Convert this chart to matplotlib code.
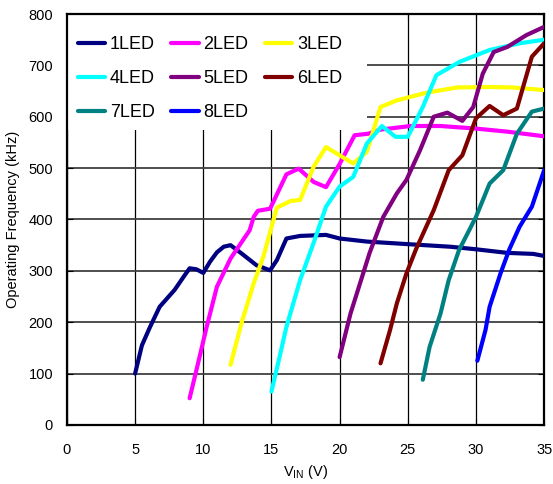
import matplotlib
matplotlib.use("Agg")
import matplotlib.pyplot as plt
from matplotlib.patches import Rectangle

# Data (VIN in V, frequency in kHz)
v_1led = [5.0, 5.5, 6.1, 6.8, 7.9, 8.6, 9.0, 9.5, 10.0, 10.5, 11.0, 11.5, 12.0, 12.8, 13.9, 14.9, 15.4,
          16.1, 17.1, 19.0, 20.0, 22.0, 25.0, 28.1, 30.0, 32.3, 34.2, 35.0]
f_1led = [100, 155, 191, 230, 263, 290, 305, 303, 296, 318, 336, 347, 350, 334, 311, 301, 321,
          363, 368, 370, 363, 357, 352, 347, 342, 335, 333, 329]

v_2led = [9.0, 9.5, 10.25, 11.0, 12.0, 13.4, 13.7, 14.0, 14.9, 16.1, 17.0, 18.1, 19.0, 20.0, 21.1,
          22.1, 23.0, 25.2, 27.4, 30.0, 32.3, 35.0]
f_2led = [52, 107, 191, 269, 324, 379, 405, 417, 421, 488, 499, 473, 463, 508, 564,
          567, 575, 582, 582, 577, 571, 562]

v_3led = [12.0, 12.8, 13.7, 14.4, 15.4, 16.4, 17.1, 18.1, 19.0, 20.0, 21.0, 22.0, 23.0, 24.2, 26.4,
          28.6, 31.0, 32.7, 35.0]
f_3led = [117, 198, 276, 327, 423, 436, 438, 503, 541, 525, 509, 532, 619, 632, 647,
          657, 658, 657, 652]

v_4led = [15.0, 15.6, 16.1, 17.1, 18.1, 19.0, 20.0, 21.0, 22.0, 23.1, 24.1, 25.0, 26.1, 27.1, 28.8,
          31.0, 33.2, 35.0]
f_4led = [65, 133, 191, 282, 355, 425, 464, 483, 548, 582, 561, 561, 619, 681, 707,
          730, 743, 750]

v_5led = [20.0, 20.8, 21.5, 22.2, 23.2, 24.2, 24.9, 25.9, 26.9, 27.9, 29.0, 29.8, 30.5, 31.3, 32.3,
          33.7, 35.0]
f_5led = [132, 217, 276, 335, 405, 451, 477, 535, 600, 608, 592, 619, 684, 726, 736,
          759, 775]

v_6led = [23.0, 23.7, 24.2, 24.9, 25.6, 26.9, 28.0, 29.0, 30.0, 31.0, 32.0, 33.0, 34.1, 35.0]
f_6led = [120, 185, 237, 295, 342, 418, 496, 525, 597, 621, 603, 616, 717, 743]

v_7led = [26.1, 26.6, 27.4, 28.0, 28.75, 30.0, 31.0, 32.0, 33.0, 34.1, 35.0]
f_7led = [88, 152, 217, 282, 340, 405, 470, 496, 567, 610, 616]

v_8led = [30.1, 30.7, 31.0, 31.8, 32.45, 33.2, 34.1, 35.0]
f_8led = [125, 185, 230, 295, 342, 386, 425, 496]

labels = ["1LED", "2LED", "3LED", "4LED", "5LED", "6LED", "7LED", "8LED"]
colors = ["#000080", "#FF00FF", "#FFFF00", "#00FFFF", "#800080", "#800000", "#008080", "#0000FF"]


def main():
    plt.rcParams["font.family"] = ["Liberation Sans", "DejaVu Sans"]
    plt.rcParams["mathtext.fontset"] = "custom"
    plt.rcParams["mathtext.rm"] = "Liberation Sans"

    fig = plt.figure(figsize=(5.53, 4.84), dpi=100)
    ax = fig.add_axes([0.121, 0.122, 0.863, 0.849])

    series = [(v_1led, f_1led), (v_2led, f_2led), (v_3led, f_3led), (v_4led, f_4led),
              (v_5led, f_5led), (v_6led, f_6led), (v_7led, f_7led), (v_8led, f_8led)]
    lines = []
    for (v, f), lab, col in zip(series, labels, colors):
        ln, = ax.plot(v, f, color=col, lw=3, label=lab, solid_capstyle="round",
                      solid_joinstyle="round", zorder=3)
        lines.append(ln)

    # Limits and ticks
    ax.set_xlim(0, 35)
    ax.set_ylim(0, 800)
    ax.set_xticks(range(0, 36, 5))
    ax.set_yticks(range(0, 801, 100))
    ax.tick_params(direction="in", length=4, top=True, right=True, labelsize=10.5)
    ax.tick_params(axis="x", pad=13)
    ax.tick_params(axis="y", pad=10)

    # Grid
    ax.grid(axis="x", color="black", lw=0.9)
    ax.grid(axis="y", color="#404040", lw=1.3)
    ax.set_axisbelow(True)
    for sp in ax.spines.values():
        sp.set_linewidth(1.6)

    # White legend area hiding the grid (lines still drawn over it)
    ax.add_patch(Rectangle((0.0, 0.718), 0.629, 0.282, transform=ax.transAxes,
                           facecolor="white", edgecolor="none", zorder=1.5))

    # Legend, filled row by row (matplotlib fills columns, so reorder)
    order = [0, 3, 6, 1, 4, 7, 2, 5]
    leg = ax.legend([lines[i] for i in order], [labels[i] for i in order],
                    ncol=3, loc="upper left", bbox_to_anchor=(0.0, 0.873, 0.6, 0.1),
                    mode="expand", borderaxespad=0, borderpad=0.6, fontsize=13, handlelength=1.5,
                    handletextpad=0.28, columnspacing=0.6, labelspacing=0.95, frameon=False)
    leg.set_zorder(4)

    ax.set_xlabel(r"V$_\mathrm{IN}$ (V)", fontsize=10.5, labelpad=4)
    ax.set_ylabel("Operating Frequency (kHz)", fontsize=10.5, labelpad=6)

    plt.savefig("out.png", dpi=100)


if __name__ == "__main__":
    main()
